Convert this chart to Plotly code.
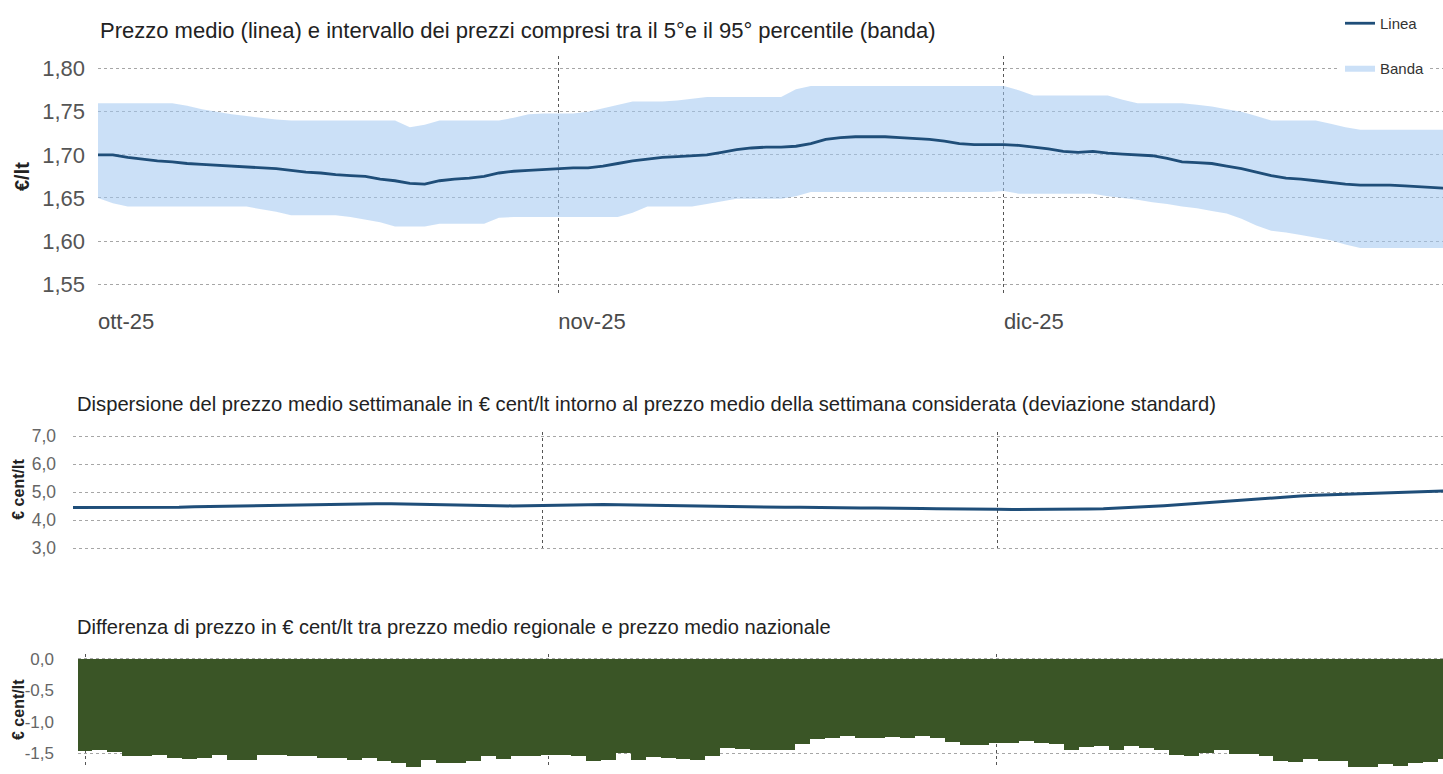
import plotly.graph_objects as go
import pandas as pd

W, H = 1443, 774

# giorni: 1 ottobre - 31 dicembre 2025
days = pd.date_range("2025-10-01", "2025-12-31", freq="D")

# prezzo medio €/lt
price_avg = [
    1.700, 1.700, 1.697, 1.695, 1.693, 1.692, 1.690, 1.689, 1.688, 1.687,
    1.686, 1.685, 1.684, 1.682, 1.680, 1.679, 1.677, 1.676, 1.675, 1.672,
    1.670, 1.667, 1.666, 1.670, 1.672, 1.673, 1.675, 1.679, 1.681, 1.682,
    1.683, 1.684, 1.685, 1.685, 1.687, 1.690, 1.693, 1.695, 1.697, 1.698,
    1.699, 1.700, 1.703, 1.706, 1.708, 1.709, 1.709, 1.710, 1.713, 1.718,
    1.720, 1.721, 1.721, 1.721, 1.720, 1.719, 1.718, 1.716, 1.713, 1.712,
    1.712, 1.712, 1.711, 1.709, 1.707, 1.704, 1.703, 1.704, 1.702, 1.701,
    1.700, 1.699, 1.696, 1.692, 1.691, 1.690, 1.687, 1.684, 1.680, 1.676,
    1.673, 1.672, 1.670, 1.668, 1.666, 1.665, 1.665, 1.665, 1.664, 1.663,
    1.662, 1.661,
]
# 95° percentile
price_p95 = [
    1.760, 1.760, 1.760, 1.760, 1.760, 1.760, 1.757, 1.753, 1.750, 1.747,
    1.745, 1.743, 1.741, 1.740, 1.740, 1.740, 1.740, 1.740, 1.740, 1.740,
    1.740, 1.732, 1.735, 1.740, 1.740, 1.740, 1.740, 1.740, 1.743, 1.747,
    1.748, 1.748, 1.748, 1.750, 1.754, 1.758, 1.762, 1.762, 1.762, 1.763,
    1.765, 1.767, 1.767, 1.767, 1.767, 1.767, 1.767, 1.776, 1.780, 1.780,
    1.780, 1.780, 1.780, 1.780, 1.780, 1.780, 1.780, 1.780, 1.780, 1.780,
    1.780, 1.780, 1.775, 1.769, 1.769, 1.769, 1.769, 1.769, 1.769, 1.764,
    1.760, 1.760, 1.760, 1.760, 1.758, 1.756, 1.753, 1.750, 1.745, 1.740,
    1.740, 1.740, 1.740, 1.736, 1.732, 1.729, 1.729, 1.729, 1.729, 1.729,
    1.729, 1.729,
]
# 5° percentile
price_p05 = [
    1.650, 1.644, 1.640, 1.640, 1.640, 1.640, 1.640, 1.640, 1.640, 1.640,
    1.640, 1.637, 1.634, 1.630, 1.630, 1.630, 1.630, 1.628, 1.625, 1.622,
    1.617, 1.617, 1.617, 1.620, 1.620, 1.620, 1.620, 1.627, 1.628, 1.628,
    1.628, 1.628, 1.628, 1.628, 1.628, 1.628, 1.633, 1.640, 1.640, 1.640,
    1.640, 1.643, 1.646, 1.649, 1.649, 1.649, 1.649, 1.652, 1.657, 1.657,
    1.657, 1.657, 1.657, 1.657, 1.657, 1.657, 1.657, 1.657, 1.657, 1.657,
    1.657, 1.658, 1.655, 1.655, 1.655, 1.655, 1.655, 1.655, 1.652, 1.650,
    1.648, 1.645, 1.643, 1.640, 1.638, 1.635, 1.632, 1.626, 1.618, 1.612,
    1.610, 1.607, 1.604, 1.601, 1.596, 1.592, 1.592, 1.592, 1.592, 1.592,
    1.592, 1.592,
]

# deviazione standard settimanale, € cent/lt
std_dev = [
    4.45, 4.45, 4.45, 4.45, 4.45, 4.45, 4.45, 4.46, 4.48, 4.49,
    4.51, 4.51, 4.52, 4.53, 4.54, 4.55, 4.56, 4.56, 4.57, 4.58,
    4.59, 4.59, 4.58, 4.57, 4.56, 4.55, 4.53, 4.52, 4.51, 4.51,
    4.52, 4.53, 4.54, 4.55, 4.56, 4.56, 4.55, 4.54, 4.53, 4.52,
    4.51, 4.50, 4.49, 4.49, 4.48, 4.48, 4.47, 4.46, 4.46, 4.45,
    4.45, 4.45, 4.44, 4.44, 4.44, 4.43, 4.42, 4.41, 4.41, 4.40,
    4.39, 4.39, 4.38, 4.38, 4.38, 4.39, 4.39, 4.40, 4.41, 4.43,
    4.46, 4.49, 4.52, 4.56, 4.60, 4.64, 4.68, 4.72, 4.76, 4.80,
    4.83, 4.86, 4.89, 4.91, 4.93, 4.95, 4.97, 4.98, 5.00, 5.02,
    5.04, 5.05,
]

# differenza regionale - nazionale, € cent/lt
diff_regional = [
    -1.46, -1.44, -1.48, -1.55, -1.55, -1.52, -1.57, -1.59, -1.57, -1.53,
    -1.60, -1.60, -1.52, -1.52, -1.54, -1.54, -1.58, -1.58, -1.60, -1.58,
    -1.63, -1.66, -1.80, -1.60, -1.65, -1.65, -1.62, -1.55, -1.59, -1.55,
    -1.55, -1.52, -1.52, -1.55, -1.63, -1.61, -1.49, -1.60, -1.56, -1.58,
    -1.59, -1.61, -1.55, -1.41, -1.43, -1.44, -1.44, -1.44, -1.36, -1.27,
    -1.25, -1.22, -1.26, -1.26, -1.24, -1.26, -1.22, -1.26, -1.32, -1.37,
    -1.37, -1.34, -1.34, -1.31, -1.33, -1.35, -1.45, -1.40, -1.39, -1.45,
    -1.39, -1.41, -1.45, -1.53, -1.55, -1.49, -1.45, -1.51, -1.51, -1.55,
    -1.62, -1.64, -1.59, -1.63, -1.63, -1.74, -1.72, -1.67, -1.70, -1.66,
    -1.64, -1.59,
]

month_ticks = ["2025-10-01", "2025-11-01", "2025-12-01"]
month_labels = ["ott-25", "nov-25", "dic-25"]

top_ticks = [1.55, 1.60, 1.65, 1.70, 1.75, 1.80]
top_labels = ["1,55", "1,60", "1,65", "1,70", "1,75", "1,80"]
mid_ticks = [3, 4, 5, 6, 7]
mid_labels = ["3,0", "4,0", "5,0", "6,0", "7,0"]
bot_ticks = [0, -0.5, -1.0, -1.5]
bot_labels = ["0,0", "-0,5", "-1,0", "-1,5"]

FONT = "Arial, Liberation Sans, sans-serif"
BLUE = "#1f4e79"
BAND = "rgba(160,198,240,0.55)"
GREEN = "#3a5526"
HGRID = "#a6a6a6"
VGRID = "#555555"


def px_x(p):
    return p / W


def px_y(p):
    return 1 - p / H


fig = go.Figure()

# --- grafico prezzo (banda + linea) ---
fig.add_trace(go.Scatter(
    x=days, y=price_p95, mode="lines", line=dict(width=0),
    hoverinfo="skip", showlegend=False, legendgroup="b",
    xaxis="x", yaxis="y"))
fig.add_trace(go.Scatter(
    x=days, y=price_p05, mode="lines", line=dict(width=0),
    fill="tonexty", fillcolor=BAND, name="Banda", legendgroup="b",
    legendrank=2, xaxis="x", yaxis="y"))
fig.add_trace(go.Scatter(
    x=days, y=price_avg, mode="lines", line=dict(color=BLUE, width=2.8),
    name="Linea", legendgroup="a", legendrank=1, xaxis="x", yaxis="y"))

# --- dispersione ---
fig.add_trace(go.Scatter(
    x=days, y=std_dev, mode="lines", line=dict(color=BLUE, width=3),
    showlegend=False, xaxis="x2", yaxis="y2"))

# --- differenza regionale ---
fig.add_trace(go.Bar(
    x=days, y=diff_regional, marker=dict(color=GREEN, line=dict(width=0)),
    showlegend=False, xaxis="x3", yaxis="y3"))

vgrid = dict(showgrid=True, gridcolor=VGRID, griddash="dot", gridwidth=1,
             zeroline=False, showline=False, type="date",
             tickvals=month_ticks, ticktext=month_labels)
hgrid = dict(showgrid=True, gridcolor=HGRID, griddash="dot", gridwidth=1,
             zeroline=False, showline=False)

fig.update_layout(
    width=W, height=H, autosize=False,
    margin=dict(l=0, r=0, t=0, b=0),
    paper_bgcolor="white", plot_bgcolor="white",
    font=dict(family=FONT, color="#222"),
    bargap=0,
    xaxis=dict(**vgrid, domain=[px_x(98), 1], anchor="y",
               range=["2025-10-01", "2025-12-30 13:40"],
               ticklabelposition="outside right", ticklabelstandoff=10,
               tickfont=dict(size=22, color="#4a4a4a")),
    yaxis=dict(**hgrid, domain=[px_y(295), px_y(51)], anchor="x",
               range=[1.5363, 1.8145], tickvals=top_ticks, ticktext=top_labels,
               ticklabelstandoff=12, tickfont=dict(size=22, color="#555")),
    xaxis2=dict(**vgrid, domain=[px_x(73), 1], anchor="y2",
                range=["2025-10-01", "2025-12-30 10:00"], showticklabels=False),
    yaxis2=dict(**hgrid, domain=[px_y(554.5), px_y(433.5)], anchor="x2",
                range=[2.895, 7.14], tickvals=mid_ticks, ticktext=mid_labels,
                ticklabelstandoff=16, tickfont=dict(size=17.5, color="#666")),
    xaxis3=dict(**vgrid, domain=[px_x(78), 1], anchor="y3",
                range=["2025-09-30 12:46", "2025-12-30 20:10"],
                showticklabels=False),
    yaxis3=dict(**hgrid, domain=[0, px_y(659)], anchor="x3",
                range=[-1.719, 0.078], tickvals=bot_ticks, ticktext=bot_labels,
                ticklabelstandoff=23, tickfont=dict(size=17, color="#666")),
    legend=dict(x=px_x(1340), y=px_y(1), xanchor="left", yanchor="top",
                bgcolor="white", traceorder="grouped", tracegroupgap=22,
                font=dict(size=15, color="#333"), itemwidth=30),
)

titles = [
    ("Prezzo medio (linea) e intervallo dei prezzi compresi tra il 5°e il 95° percentile (banda)", 98, 25, 22),
    ("Dispersione del prezzo medio settimanale in € cent/lt intorno al prezzo medio della settimana considerata (deviazione standard)", 75, 405, 20.2),
    ("Differenza di prezzo in € cent/lt tra prezzo medio regionale e prezzo medio nazionale", 75, 632, 20.1),
]
for text, x, y, size in titles:
    fig.add_annotation(text=text, xref="paper", yref="paper", x=px_x(x), y=px_y(y),
                       xanchor="left", yanchor="middle", showarrow=False,
                       font=dict(size=size, color="#222"))

ytitles = [("€/lt", 22, 174, 20), ("€ cent/lt", 19, 492, 16), ("€ cent/lt", 19, 716, 16)]
for text, x, y, size in ytitles:
    fig.add_annotation(text=f"<b>{text}</b>", xref="paper", yref="paper",
                       x=px_x(x), y=px_y(y), xanchor="center", yanchor="middle",
                       textangle=-90, showarrow=False,
                       font=dict(size=size, color="#222"))

fig.write_html("out.html", config={"displayModeBar": False},
               post_script="document.body.style.margin='0';")
